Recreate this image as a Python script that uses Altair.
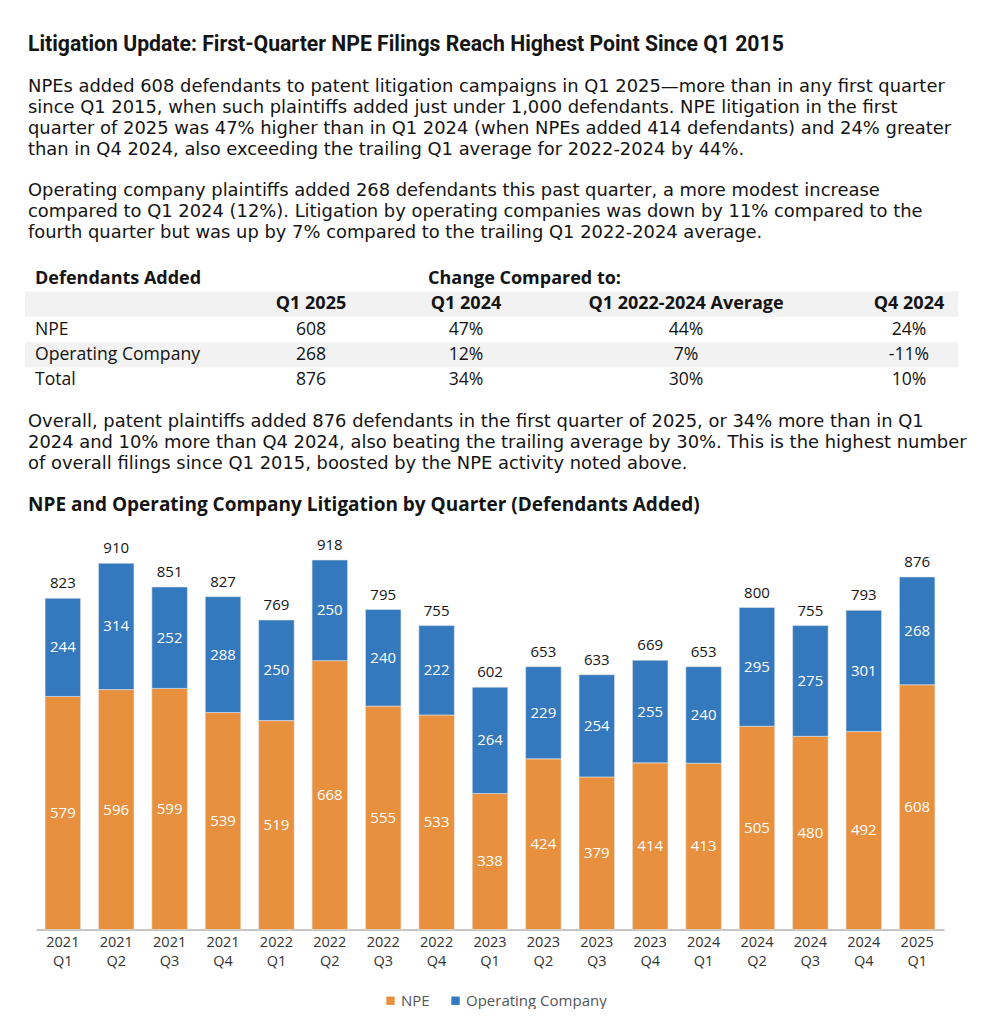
import altair as alt
import pandas as pd

# ---------------- data ----------------
quarters = ["2021 Q1", "2021 Q2", "2021 Q3", "2021 Q4", "2022 Q1", "2022 Q2", "2022 Q3",
            "2022 Q4", "2023 Q1", "2023 Q2", "2023 Q3", "2023 Q4", "2024 Q1", "2024 Q2",
            "2024 Q3", "2024 Q4", "2025 Q1"]
npe = [579, 596, 599, 539, 519, 668, 555, 533, 338, 424, 379, 414, 413, 505, 480, 492, 608]
opco = [244, 314, 252, 288, 250, 250, 240, 222, 264, 229, 254, 255, 240, 295, 275, 301, 268]
series = ["NPE", "Operating Company"]
colors = ["#E8903D", "#3478BD"]

title_text = "Litigation Update: First-Quarter NPE Filings Reach Highest Point Since Q1 2015"
para1 = [
    "NPEs added 608 defendants to patent litigation campaigns in Q1 2025\u2014more than in any first quarter",
    "since Q1 2015, when such plaintiffs added just under 1,000 defendants. NPE litigation in the first",
    "quarter of 2025 was 47% higher than in Q1 2024 (when NPEs added 414 defendants) and 24% greater",
    "than in Q4 2024, also exceeding the trailing Q1 average for 2022-2024 by 44%.",
]
para2 = [
    "Operating company plaintiffs added 268 defendants this past quarter, a more modest increase",
    "compared to Q1 2024 (12%). Litigation by operating companies was down by 11% compared to the",
    "fourth quarter but was up by 7% compared to the trailing Q1 2022-2024 average.",
]
para3 = [
    "Overall, patent plaintiffs added 876 defendants in the first quarter of 2025, or 34% more than in Q1",
    "2024 and 10% more than Q4 2024, also beating the trailing average by 30%. This is the highest number",
    "of overall filings since Q1 2015, boosted by the NPE activity noted above.",
]
chart_title = "NPE and Operating Company Litigation by Quarter (Defendants Added)"

table_header_left = "Defendants Added"
table_header_group = "Change Compared to:"
table_columns = ["Q1 2025", "Q1 2024", "Q1 2022-2024 Average", "Q4 2024"]
table_rows = ["NPE", "Operating Company", "Total"]
col_q1_2025 = ["608", "268", "876"]
col_q1_2024 = ["47%", "12%", "34%"]
col_avg = ["44%", "7%", "30%"]
col_q4_2024 = ["24%", "-11%", "10%"]

# ---------------- style ----------------
BODY = "Open Sans"
PARA_FONT = "DejaVu Sans"
TITLE_FONT = "Roboto"
INK = "#141414"
W = 933
PITCH = 20.9
PARA_SIZE = 17.9

# ---------------- panel A: title + paragraphs 1-2 ----------------
a_lines = pd.DataFrame({"line": list(range(len(para1))) + [len(para1) + 1 + j for j in range(len(para2))],
                        "text": para1 + para2})
a_title = pd.DataFrame({"line": [-2], "text": [title_text]})
yA = alt.Scale(domain=[-2, 7], range=[27, 27 + 9 * PITCH])
panelA = alt.layer(
    alt.Chart(a_title).mark_text(align="left", baseline="middle", font=TITLE_FONT, fontSize=21.2,
                                 fontWeight="bold", color=INK).encode(
        x=alt.value(3), y=alt.Y("line:Q", scale=yA, axis=None), text="text:N"),
    alt.Chart(a_lines).mark_text(align="left", baseline="middle", font=PARA_FONT, fontSize=PARA_SIZE,
                                 color=INK).encode(
        x=alt.value(3), y=alt.Y("line:Q", scale=yA, axis=None), text="text:N"),
).properties(width=W, height=247.3)

# ---------------- panel B: table ----------------
yB = alt.Scale(domain=[0, 1, 2, 3, 4], paddingInner=0, paddingOuter=0)
bands = alt.Chart(pd.DataFrame({"row": [1, 3]})).mark_rect(color="#f2f2f2").encode(
    y=alt.Y("row:O", scale=yB, axis=None), x=alt.value(0), x2=alt.value(W))

col_specs = [  # (x, align)
    (10, "left"), (286, "center"), (441, "center"), (661, "center"), (884, "center")
]
layersB = [bands]

def tcell(df, x, align, bold):
    return alt.Chart(df).mark_text(align=align, baseline="middle", font=BODY,
                                   fontSize=18 if bold else 17.6,
                                   fontWeight="bold" if bold else "normal", color=INK).encode(
        x=alt.value(x), y=alt.Y("row:O", scale=yB, axis=None), text="text:N")

layersB.append(tcell(pd.DataFrame({"row": [0], "text": [table_header_left]}), 10, "left", True))
layersB.append(tcell(pd.DataFrame({"row": [0], "text": [table_header_group]}), 403, "left", True))
for (x, al), hdr in zip(col_specs[1:], table_columns):
    layersB.append(tcell(pd.DataFrame({"row": [1], "text": [hdr]}), x, "center", True))
for (x, al), vals in zip(col_specs, [table_rows, col_q1_2025, col_q1_2024, col_avg, col_q4_2024]):
    layersB.append(tcell(pd.DataFrame({"row": [2, 3, 4], "text": vals}), x, al, False))
panelB = alt.layer(*layersB).properties(width=W, height=127)

# ---------------- panel C: paragraph 3 + chart title ----------------
yC = alt.Scale(domain=[0, 4], range=[28.7, 28.7 + 4 * PITCH])
panelC = alt.layer(
    alt.Chart(pd.DataFrame({"line": list(range(len(para3))), "text": para3})).mark_text(
        align="left", baseline="middle", font=PARA_FONT, fontSize=PARA_SIZE, color=INK).encode(
        x=alt.value(3), y=alt.Y("line:Q", scale=yC, axis=None), text="text:N"),
    alt.Chart(pd.DataFrame({"line": [4], "text": [chart_title]})).mark_text(
        align="left", baseline="middle", font=BODY, fontSize=19, fontWeight="bold", color=INK).encode(
        x=alt.value(3), y=alt.Y("line:Q", scale=yC, axis=None), text="text:N"),
).properties(width=W, height=133.2)

# ---------------- panel D: stacked bars ----------------
bar_df = pd.DataFrame({
    "quarter": quarters * 2,
    "series": [series[0]] * len(quarters) + [series[1]] * len(quarters),
    "value": npe + opco,
})
bar_df["order"] = bar_df["series"].map(series.index)

xD = alt.X("quarter:N", sort=quarters,
           scale=alt.Scale(range=[11, 919], paddingInner=0.335, paddingOuter=0.17),
           axis=alt.Axis(title=None, labelExpr="split(datum.label, ' ')", labelAngle=0, ticks=False,
                         domainColor="#8c8c8c", domainWidth=1, labelFont=BODY, labelFontSize=14.5,
                         labelColor="#333333", labelPadding=6, labelLineHeight=19))
yScale = alt.Scale(domain=[0, 1000], nice=False)

bars = alt.Chart(bar_df).mark_bar(stroke="#e4e4e4", strokeWidth=0.6).encode(
    x=xD,
    y=alt.Y("value:Q", stack="zero", scale=yScale, axis=None),
    color=alt.Color("series:N", scale=alt.Scale(domain=series, range=colors),
                    legend=alt.Legend(title=None, orient="none", legendX=358, legendY=975,
                                      direction="horizontal", symbolType="square", symbolSize=70,
                                      symbolStrokeWidth=0, labelFont=BODY, labelFontSize=15,
                                      labelColor="#555555", columnPadding=18, labelOffset=3,
                                      padding=0)),
    order=alt.Order("order:Q"),
)
seg_labels = alt.Chart(bar_df).transform_stack(
    stack="value", groupby=["quarter"], sort=[alt.SortField("order")], as_=["y0", "y1"]
).transform_calculate(mid="(datum.y0 + datum.y1) / 2").mark_text(
    color="white", font=BODY, fontSize=15, baseline="middle").encode(
    x=alt.X("quarter:N", sort=quarters), y=alt.Y("mid:Q", scale=yScale, axis=None), text="value:Q")
tot_labels = alt.Chart(bar_df).transform_aggregate(total="sum(value)", groupby=["quarter"]).mark_text(
    color=INK, font=BODY, fontSize=15, baseline="middle", dy=-15).encode(
    x=alt.X("quarter:N", sort=quarters), y=alt.Y("total:Q", scale=yScale, axis=None), text="total:Q")

panelD = alt.layer(bars, seg_labels, tot_labels).properties(width=919, height=402.5)

chart = alt.vconcat(panelA, panelB, panelC, panelD, spacing=0).properties(
    padding={"left": 17, "top": 10, "right": 0, "bottom": 0}
).configure_view(stroke=None)

chart.save("out.html", embed_options={"renderer": "svg", "actions": False})
